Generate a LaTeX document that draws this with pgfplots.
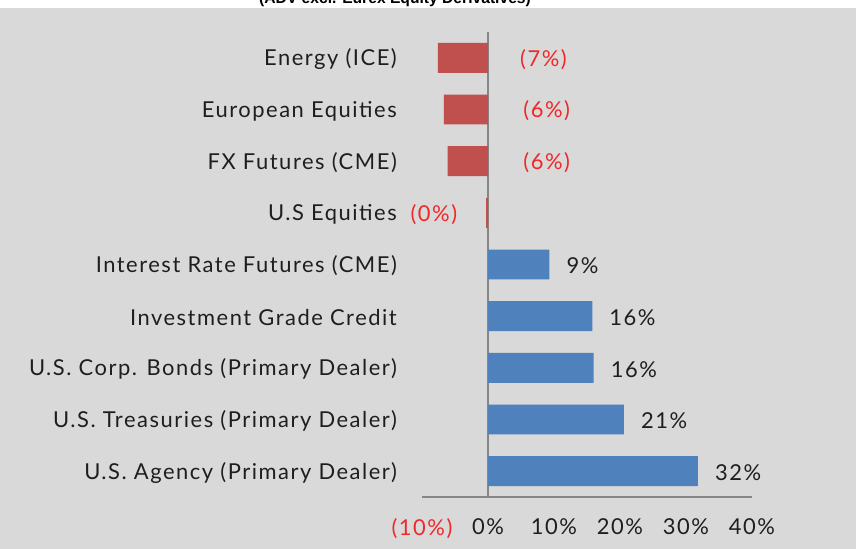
\documentclass[border=0pt]{standalone}
\usepackage{pgfplots}
\pgfplotsset{compat=1.18}
\usepackage{fontspec}
\setmainfont[LetterSpace=7]{Lato}
\newfontfamily\titlefont{Liberation Sans}

\definecolor{bg}{HTML}{D9D9D9}
\definecolor{negbar}{HTML}{C0504D}
\definecolor{posbar}{HTML}{4F81BD}
\definecolor{axgray}{HTML}{868686}
\definecolor{txt}{HTML}{1E1E1E}
\definecolor{lblred}{HTML}{F02828}

\begin{document}
\begin{tikzpicture}
% grey chart area and the cut-off title strip
\fill[bg] (0,0) rectangle (856bp,541bp);
\fill[white] (0,541bp) rectangle (856bp,549bp);
\begin{scope}
  \clip (0,541bp) rectangle (856bp,549bp);
  \node[anchor=base, inner sep=0pt, font=\titlefont\bfseries\fontsize{15.7}{15.7}\selectfont]
    at (395bp,545.5bp) {(ADV excl. Eurex Equity Derivatives)};
\end{scope}

\begin{axis}[
  at={(422bp,52bp)}, anchor=south west,
  scale only axis, width=330bp, height=465bp,
  xmin=-10, xmax=40, ymin=-0.5, ymax=8.5,
  axis x line*=bottom, axis y line*=left,
  x axis line style={draw=axgray, line width=1.2bp},
  y axis line style={draw=none},
  xtick={-10,0,10,20,30,40},
  xticklabels={{\color{lblred}(10\%)},0\%,10\%,20\%,30\%,40\%},
  ytick={0,...,8},
  yticklabels={U.S. Agency (Primary Dealer),U.S. Treasuries (Primary Dealer),U.S. Corp. Bonds (Primary Dealer),Investment Grade Credit,Interest Rate Futures (CME),U.S Equities,FX Futures (CME),European Equities,Energy (ICE)},
  xtick style={draw=none}, ytick style={draw=none},
  tick label style={font=\fontsize{22}{26}\selectfont, text=txt},
  yticklabel style={anchor=east, inner sep=0pt, xshift=-25bp, yshift=-1.5bp},
  xticklabel style={anchor=north, inner sep=0pt, yshift=-21bp},
  extra x ticks={0}, extra x tick labels={},
  extra x tick style={grid=major, major grid style={draw=axgray, line width=1.5bp}},
  clip=false,
]
% negative changes
\addplot[xbar, bar width=0.58, bar shift=0pt, fill=negbar, draw=none]
  coordinates {(-0.3,5) (-6.1,6) (-6.7,7) (-7.6,8)};
% positive changes
\addplot[xbar, bar width=0.58, bar shift=0pt, fill=posbar, draw=none]
  coordinates {(31.8,0) (20.6,1) (16.0,2) (15.8,3) (9.3,4)};
% red labels of the negative bars
\addplot[draw=none, mark=none, nodes near coords, point meta=explicit symbolic,
  every node near coord/.style={anchor=center, inner sep=0pt, text=lblred, yshift=-1.5bp,
    font=\fontsize{22}{26}\selectfont}]
  coordinates {(-8.2,5) [(0\%)] (8.9,6) [(6\%)] (8.9,7) [(6\%)] (8.4,8) [(7\%)]};
% labels of the positive bars
\addplot[draw=none, mark=none, nodes near coords, point meta=explicit symbolic,
  every node near coord/.style={anchor=west, inner sep=0pt, xshift=17bp, yshift=-1.5bp, text=txt,
    font=\fontsize{22}{26}\selectfont}]
  coordinates {(31.8,0) [32\%] (20.6,1) [21\%] (16.0,2) [16\%] (15.8,3) [16\%] (9.3,4) [9\%]};
\end{axis}

\pgfresetboundingbox
\useasboundingbox (0,0) rectangle (856bp,549bp);
\end{tikzpicture}
\end{document}
